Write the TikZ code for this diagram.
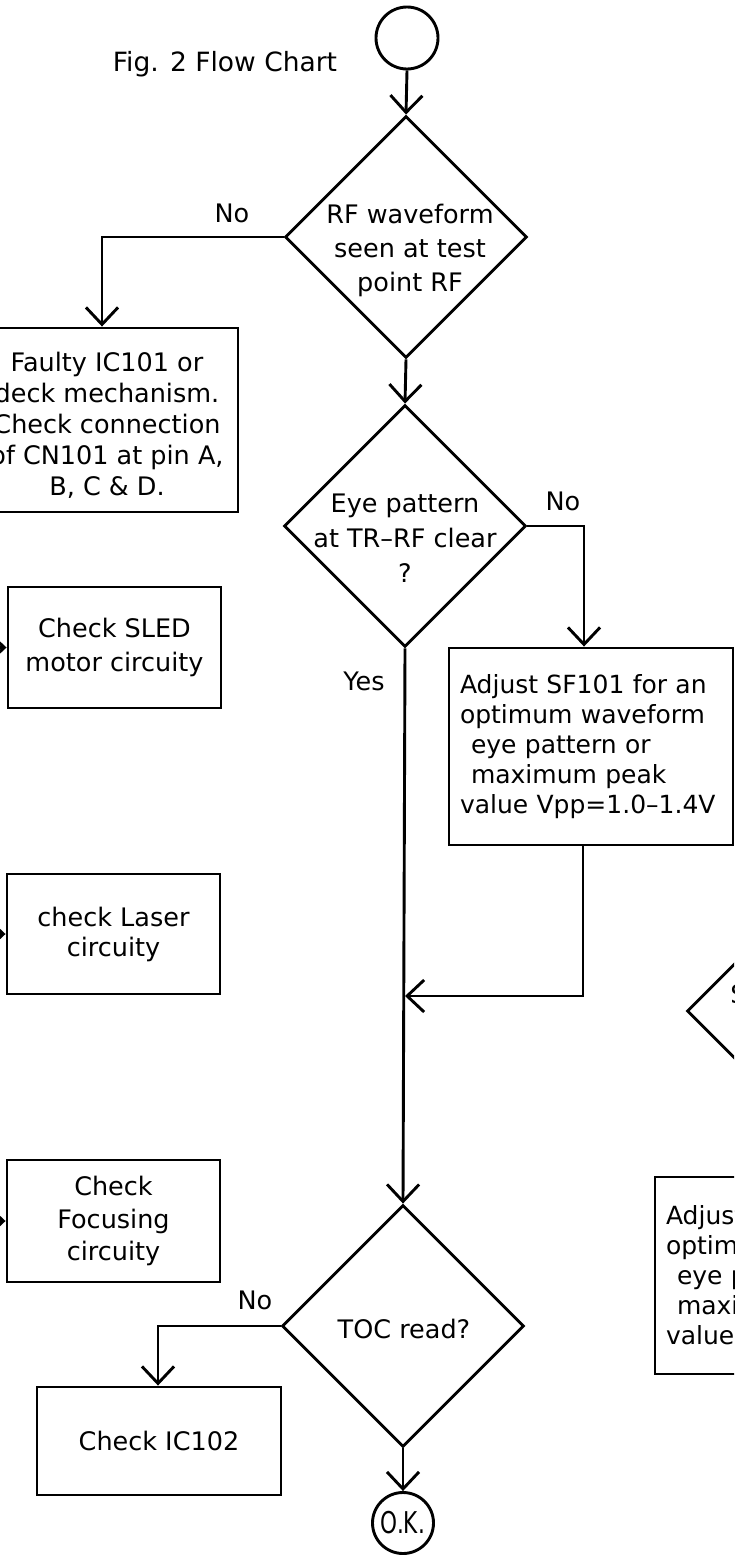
\documentclass[tikz,border=0pt]{standalone}
\usepackage{fontspec}
\usepackage{graphicx}
\setmainfont{DejaVu Sans}
\usetikzlibrary{shapes.geometric,arrows.meta}
\begin{document}
\begin{tikzpicture}[x=1pt,y=-1pt,
  line width=2.9pt,
  every node/.style={inner sep=0pt, line width=2.9pt},
  txt/.style={align=center},
  fs/.style={font=\fontsize{25.5}{#1}\selectfont},
  dec/.style={draw, diamond, minimum width=242pt, minimum height=242pt},
  box/.style={draw, rectangle},
  term/.style={draw, circle, minimum size=62pt},
  arr/.style={-{Straight Barb[length=17pt,width=32pt]}},
  adjbox/.style={box, font=\fontsize{25}{30}\selectfont, align=left, text width=262pt, minimum width=284pt, minimum height=197pt}
]
\path[use as bounding box] (0,0) rectangle (734,1555);
\clip (0,0) rectangle (734,1555);

% title
\node[anchor=base, font=\fontsize{26.5}{26.5}\selectfont] (title) at (225,71) {Fig. 2 Flow Chart};

% main column
\node[term] (start) at (407,38) {};
\node[dec] (d1) at (406,237) {};
\node[txt, fs=34] (d1t) at (410,250) {RF waveform\\seen at test\\point RF};

\node[dec] (d2) at (405,526) {};
\node[txt, fs=35] (d2t) at (405,538) {Eye pattern\\at TR–RF clear\\?};

\node[dec] (d3) at (403,1326) {};
\node[fs=24] (d3t) at (404,1329) {TOC read?};

\node[term, minimum size=61pt] (ok) at (403,1523) {\scalebox{0.72}[1]{\fontsize{30}{30}\selectfont O.K.}};

% boxes
\node[box, minimum width=272pt, minimum height=184pt] (faulty) at (102,420) {};
\node[txt, fs=31] (faultyt) at (107,425)
  {Faulty IC101 or\\deck mechanism.\\Check connection\\of CN101 at pin A,\\B, C \& D.};
\node[box, txt, fs=34, minimum width=213pt, minimum height=121pt] (sled) at (114.5,647.5)
  {Check SLED\\motor circuity};
\node[box, txt, fs=30, minimum width=213pt, minimum height=120pt] (laser) at (113.5,934)
  {check Laser\\circuity};
\node[box, txt, fs=32.5, minimum width=213pt, minimum height=122pt] (focus) at (113.5,1221)
  {Check\\Focusing\\circuity};
\node[box, fs=24, minimum width=244pt, minimum height=108pt] (ic) at (159,1441)
  {Check IC102};
\node[adjbox] (adj) at (591,746.5)
  {Adjust SF101 for an\\optimum waveform\\\hspace*{11pt}eye pattern or\\\hspace*{11pt}maximum peak\\value Vpp=1.0–1.4V};

% partly visible shapes at the right edge
\node[dec] (d4) at (808,1011) {};
\node[anchor=west, fs=24] (d4t) at (729,994) {S};
\node[adjbox] (adj2) at (797,1275.5)
  {Adjust\\optimu\\\hspace*{11pt}eye p\\\hspace*{11pt}maxim\\value V};

% labels
\node[fs=24] (no1) at (232,213) {No};
\node[fs=24] (no2) at (563,501) {No};
\node[fs=24] (yes) at (364,681) {Yes};
\node[fs=24] (no3) at (255,1300) {No};

% connectors
\draw[arr] (start.south) -- (d1.north);
\draw[arr] (d1.west) -| (faulty.north);
\draw[arr] (d1.south) -- (d2.north);
\draw[arr] (d2.east) -| ([xshift=-7pt]adj.north);
\draw[arr] (d2.south) -- (d3.north);
\coordinate (m) at (405,996);
\draw[arr] ([xshift=-8pt]adj.south) |- (m);
\draw[arr] (d3.west) -| ([xshift=-1pt]ic.north);
\draw[arr] (d3.south) -- (ok.north);

\coordinate (sin) at (-40,647.5);
\coordinate (lin) at (-40,934);
\coordinate (fin) at (-40,1221);
\draw[arr] (sin) -- (sled.west);
\draw[arr] (lin) -- (laser.west);
\draw[arr] (fin) -- (focus.west);
\end{tikzpicture}
\end{document}
